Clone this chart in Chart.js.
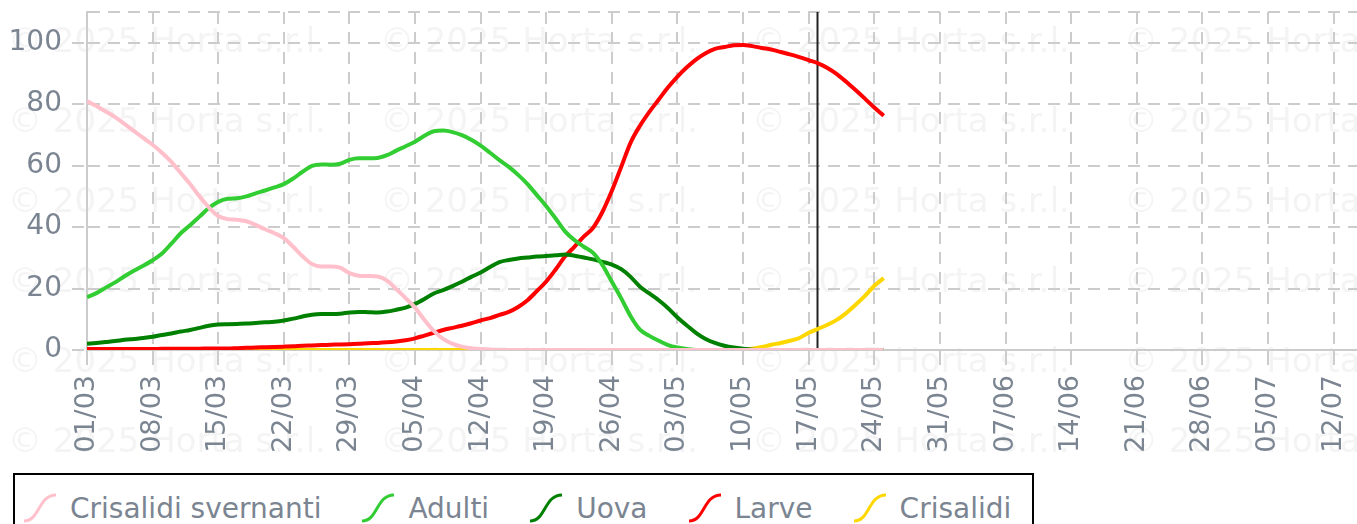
<!DOCTYPE html>
<html>
<head>
<meta charset="utf-8">
<script src="https://cdn.jsdelivr.net/npm/chart.js@4/dist/chart.umd.min.js"></script>
<style>
  html, body { margin: 0; padding: 0; background: #fff; }
  #wrap { position: relative; width: 1357px; height: 524px; overflow: hidden; }
  #c { position: absolute; left: 0; top: 0; }
  #legend {
    position: absolute; left: 13px; top: 473px; width: 1021px; height: 80px;
    border: 2px solid #000; box-sizing: border-box; background: #fff;
    font-family: "DejaVu Sans", sans-serif; font-size: 28px; color: #7b8592;
    display: flex; align-items: flex-start;
    padding: 18px 0 0 7px; white-space: nowrap;
  }
  #legend .item { display: flex; align-items: center; height: 30px; margin-right: 39px; }
  #legend canvas { margin-right: 12px; display: block; }
  #legend .item:last-child { margin-right: 0; }
</style>
</head>
<body>
<div id="wrap">
  <canvas id="c" width="1357" height="524"></canvas>
  <div id="legend"></div>
</div>
<script>
// ---- data (daily values from 01/03, day index 0) ----
const seriesNames = ["Crisalidi svernanti", "Adulti", "Uova", "Larve", "Crisalidi"];
const seriesColors = ["#ffc0cb", "#32cd32", "#008000", "#ff0000", "#ffd700"];

const crisalidiSvernanti = [
  81.0,79.4,77.6,75.8,73.6,71.3,69.0,66.8,64.2,61.2,
  57.6,54.0,50.0,46.4,43.6,42.6,42.4,41.9,40.7,39.3,
  38.0,36.4,33.6,30.5,28.0,27.2,27.2,26.8,25.0,24.2,
  24.1,23.9,22.6,19.8,16.9,13.8,9.8,6.2,3.6,2.0,
  1.1,0.6,0.3,0.2,0,0,0,0,0,0,
  0,0,0,0,0,0,0,0,0,0,
  0,0,0,0,0,0,0,0,0,0,
  0,0,0,0,0,0,0,0,0,0,
  0,0,0,0,0,0
];
const adulti = [
  17.2,18.5,20.3,22.0,24.0,25.8,27.4,29.2,31.4,34.6,
  38.0,40.6,43.4,46.2,48.2,49.2,49.4,50.0,51.0,51.9,
  52.9,54.0,55.8,58.0,59.9,60.4,60.3,60.6,61.9,62.4,
  62.4,62.5,63.4,64.9,66.3,67.8,69.7,71.2,71.4,70.9,
  69.9,68.4,66.5,64.2,61.8,59.6,57.0,54.0,50.4,46.8,
  42.8,38.6,35.8,33.6,31.6,27.6,22.2,16.8,11.0,6.6,
  4.6,3.0,1.6,0.8,0.3,0,0,0,0,0,
  0,0,0,0,0,0,0,0,0,0,
  0,0,0,0,0,0
];
const uova = [
  2.0,2.3,2.6,2.9,3.3,3.6,3.9,4.3,4.9,5.4,
  6.0,6.5,7.2,7.9,8.3,8.4,8.5,8.6,8.8,9.0,
  9.2,9.6,10.2,10.9,11.5,11.7,11.7,11.8,12.2,12.4,
  12.3,12.2,12.5,13.1,13.8,15.0,16.6,18.4,19.5,20.8,
  22.2,23.8,25.2,27.0,28.6,29.3,29.8,30.1,30.4,30.6,
  30.8,31.1,30.7,30.1,29.5,28.7,27.8,26.3,23.8,20.6,
  18.4,16.2,13.6,10.6,8.0,5.5,3.6,2.3,1.4,0.8,
  0.4,0.1,0,0,0,0,0,0,0,0,
  0,0,0,0,0,0
];
const larve = [
  0.3,0.3,0.3,0.3,0.3,0.3,0.3,0.3,0.4,0.4,
  0.4,0.4,0.4,0.5,0.5,0.5,0.6,0.7,0.8,0.9,
  1.0,1.1,1.2,1.4,1.5,1.6,1.7,1.8,1.9,2.0,
  2.2,2.3,2.5,2.8,3.2,3.8,4.7,5.6,6.5,7.2,
  7.9,8.7,9.6,10.4,11.4,12.4,14.0,16.2,19.2,22.3,
  26.2,30.4,33.6,36.9,39.8,45.0,51.8,59.6,67.5,73.0,
  77.5,81.5,85.5,89.0,92.0,94.6,96.6,98.0,98.6,99.2,
  99.3,98.9,98.3,97.8,97.0,96.2,95.3,94.3,93.3,91.8,
  89.8,87.3,84.6,81.8,78.9,76.2
];
const crisalidi = [
  0,0,0,0,0,0,0,0,0,0,
  0,0,0,0,0,0,0,0,0,0,
  0,0,0,0,0,0,0,0,0,0,
  0,0,0,0,0,0,0,0,0,0,
  0,0,0,0,0,0,0,0,0,0,
  0,0,0,0,0,0,0,0,0,0,
  0,0,0,0,0,0,0,0,0,0,
  0.1,0.4,1.0,1.7,2.3,3.0,3.9,5.6,6.9,8.2,
  9.8,12.0,14.7,17.6,20.9,23.4
];
const seriesData = [crisalidiSvernanti, adulti, uova, larve, crisalidi];

// weekly x tick labels (every 7 days from 01/03)
const xTickLabels = ["01/03","08/03","15/03","22/03","29/03","05/04","12/04","19/04","26/04",
  "03/05","10/05","17/05","24/05","31/05","07/06","14/06","21/06","28/06","05/07","12/07"];
const yTickValues = [0, 20, 40, 60, 80, 100, 110];
const markerDay = 78; // 18/05
const watermarkText = "\u00a9 2025 Horta s.r.l.";

const TEXT_COLOR = "#7b8592";
const GRID_COLOR = "#cccccc";

const watermarkPlugin = {
  id: "watermark",
  beforeDraw(chart) {
    const ctx = chart.ctx;
    ctx.save();
    ctx.font = "34px 'DejaVu Sans'";
    ctx.fillStyle = "#f4f4f4";
    ctx.textBaseline = "middle";
    ctx.textAlign = "left";
    for (let r = 0; r < 6; r++) {
      for (let c = 0; c < 4; c++) {
        ctx.fillText(watermarkText, 8 + c * 372, 43 + r * 80);
      }
    }
    ctx.restore();
  }
};

const markerPlugin = {
  id: "marker",
  beforeDatasetsDraw(chart) {
    const {ctx, chartArea, scales} = chart;
    const x = Math.round(scales.x.getPixelForValue(markerDay)) - 0.5;
    ctx.save();
    ctx.strokeStyle = "#222";
    ctx.lineWidth = 2;
    ctx.beginPath();
    ctx.moveTo(x, chartArea.top);
    ctx.lineTo(x, chartArea.bottom);
    ctx.stroke();
    ctx.restore();
  }
};

const datasets = seriesNames.map((name, k) => ({
  label: name,
  data: seriesData[k].map((v, i) => ({x: i, y: v})),
  borderColor: seriesColors[k],
  backgroundColor: seriesColors[k],
  borderWidth: 4,
  pointRadius: 0,
  fill: false,
  cubicInterpolationMode: "monotone"
}));

const chart = new Chart(document.getElementById("c"), {
  type: "line",
  data: { datasets },
  plugins: [watermarkPlugin, markerPlugin],
  options: {
    responsive: false,
    animation: false,
    layout: { padding: { top: 12, right: 0, bottom: 0, left: 0 } },
    plugins: { legend: { display: false }, tooltip: { enabled: false } },
    scales: {
      x: {
        type: "linear", min: 0, max: 135.5,
        afterBuildTicks: s => { s.ticks = xTickLabels.map((l, i) => ({value: i * 7})); },
        afterFit: s => { s.height = 174; s.paddingLeft = 0; s.paddingRight = 0; },
        ticks: {
          autoSkip: false, maxRotation: 90, minRotation: 90, padding: 10,
          color: TEXT_COLOR, font: { family: "DejaVu Sans", size: 27 },
          callback: (v, i) => xTickLabels[i]
        },
        grid: { color: GRID_COLOR, lineWidth: 2, tickLength: 15, tickColor: GRID_COLOR, tickWidth: 2, tickBorderDash: [] },
        border: { color: GRID_COLOR, width: 2, dash: [12, 8] }
      },
      y: {
        min: 0, max: 110,
        afterBuildTicks: s => { s.ticks = yTickValues.map(v => ({value: v})); },
        afterFit: s => { s.width = 87; s.paddingTop = 0; s.paddingBottom = 0; },
        ticks: {
          padding: 10, color: TEXT_COLOR, font: { family: "DejaVu Sans", size: 28 },
          callback: v => (v === 110 ? "" : v)
        },
        grid: {
          color: GRID_COLOR, lineWidth: 2, tickLength: 15, tickWidth: 2,
          tickColor: ctx => (ctx.tick && ctx.tick.value === 110 ? "rgba(0,0,0,0)" : GRID_COLOR),
          tickBorderDash: [12, 8]
        },
        border: { color: GRID_COLOR, width: 2, dash: [12, 8] }
      }
    }
  }
});

// HTML legend with S-curve icons
const legendEl = document.getElementById("legend");
chart.data.datasets.forEach(d => {
  const item = document.createElement("div");
  item.className = "item";
  const ic = document.createElement("canvas");
  ic.width = 36; ic.height = 30;
  const g = ic.getContext("2d");
  g.strokeStyle = d.borderColor;
  g.lineWidth = 3;
  g.beginPath();
  g.moveTo(2, 28);
  g.bezierCurveTo(18, 28, 16, 2, 34, 2);
  g.stroke();
  const span = document.createElement("span");
  span.textContent = d.label;
  item.appendChild(ic);
  item.appendChild(span);
  legendEl.appendChild(item);
});
</script>
</body>
</html>
